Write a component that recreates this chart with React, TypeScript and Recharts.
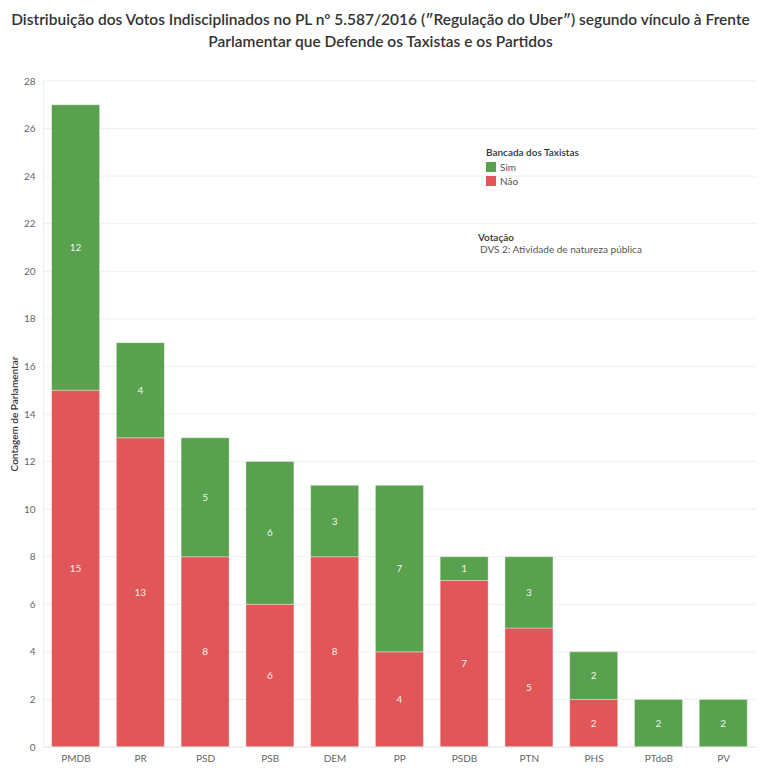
import React from 'react';
import {
  BarChart,
  Bar,
  XAxis,
  YAxis,
  CartesianGrid,
  LabelList,
} from 'recharts';

const PARTIES = ['PMDB', 'PR', 'PSD', 'PSB', 'DEM', 'PP', 'PSDB', 'PTN', 'PHS', 'PTdoB', 'PV'];
const NAO = [15, 13, 8, 6, 8, 4, 7, 5, 2, 0, 0];
const SIM = [12, 4, 5, 6, 3, 7, 1, 3, 2, 2, 2];
const Y_TICKS = [0, 2, 4, 6, 8, 10, 12, 14, 16, 18, 20, 22, 24, 26, 28];

const GREEN = '#59a14f';
const RED = '#e15759';
const FONT = 'Lato, "Open Sans", sans-serif';

const data = PARTIES.map((p, i) => ({ party: p, nao: NAO[i], sim: SIM[i] }));

// zero-height segments get no label
const hideZero = (v: any) => (v ? v : '');

export default function App() {
  return (
    <div style={{ position: 'absolute', left: 0, top: 0, width: 761, height: 768, background: '#fff', fontFamily: FONT }}>
      <div
        style={{
          position: 'absolute',
          left: 0,
          top: 8,
          width: 761,
          textAlign: 'center',
          fontSize: 15.5,
          lineHeight: '22px',
          color: '#333',
          fontWeight: 600,
        }}
      >
        Distribuição dos Votos Indisciplinados no PL nº 5.587/2016 (″Regulação do Uber″) segundo vínculo à Frente
        <br />
        Parlamentar que Defende os Taxistas e os Partidos
      </div>

      <BarChart
        width={761}
        height={768}
        data={data}
        margin={{ top: 81, right: 5, bottom: 0, left: 0 }}
        barSize={48}
        style={{ position: 'absolute', left: 0, top: 0 }}
      >
        <CartesianGrid vertical={false} stroke="#efefef" />
        <XAxis
          dataKey="party"
          height={21}
          tickLine={false}
          axisLine={{ stroke: '#e6e6e6' }}
          tick={{ fontSize: 10, fill: '#666', fontFamily: FONT }}
          tickMargin={2}
        />
        <YAxis
          width={43.6}
          domain={[0, 28]}
          ticks={Y_TICKS}
          interval={0}
          tickLine={false}
          axisLine={{ stroke: '#eeeeee' }}
          tick={{ fontSize: 10, fill: '#666', fontFamily: FONT }}
          label={{
            value: 'Contagem de Parlamentar',
            angle: -90,
            position: 'insideLeft',
            offset: 14,
            style: { fontSize: 10, fill: '#333', fontWeight: 600, fontFamily: FONT, textAnchor: 'middle' },
          }}
        />
        <Bar dataKey="nao" stackId="a" fill={RED} stroke="#ffffff" strokeOpacity={0.35} isAnimationActive={false}>
          <LabelList dataKey="nao" position="center" formatter={hideZero} fill="#fff" fillOpacity={0.92} fontSize={10} fontFamily={FONT} />
        </Bar>
        <Bar dataKey="sim" stackId="a" fill={GREEN} stroke="#ffffff" strokeOpacity={0.35} isAnimationActive={false}>
          <LabelList dataKey="sim" position="center" formatter={hideZero} fill="#fff" fillOpacity={0.92} fontSize={10} fontFamily={FONT} />
        </Bar>
      </BarChart>

      <div style={{ position: 'absolute', left: 486, top: 146, fontSize: 10, color: '#333' }}>
        <div style={{ fontWeight: 600, marginBottom: 2 }}>Bancada dos Taxistas</div>
        <div style={{ display: 'flex', alignItems: 'center', height: 14, color: '#555' }}>
          <span style={{ width: 10, height: 10, background: GREEN, marginRight: 4 }} />
          Sim
        </div>
        <div style={{ display: 'flex', alignItems: 'center', height: 14, color: '#555' }}>
          <span style={{ width: 10, height: 10, background: RED, marginRight: 4 }} />
          Não
        </div>
      </div>

      <div style={{ position: 'absolute', left: 478, top: 231, fontSize: 10, color: '#333' }}>
        <div style={{ fontWeight: 600 }}>Votação</div>
        <div style={{ color: '#555', marginLeft: 2 }}>DVS 2: Atividade de natureza pública</div>
      </div>
    </div>
  );
}
